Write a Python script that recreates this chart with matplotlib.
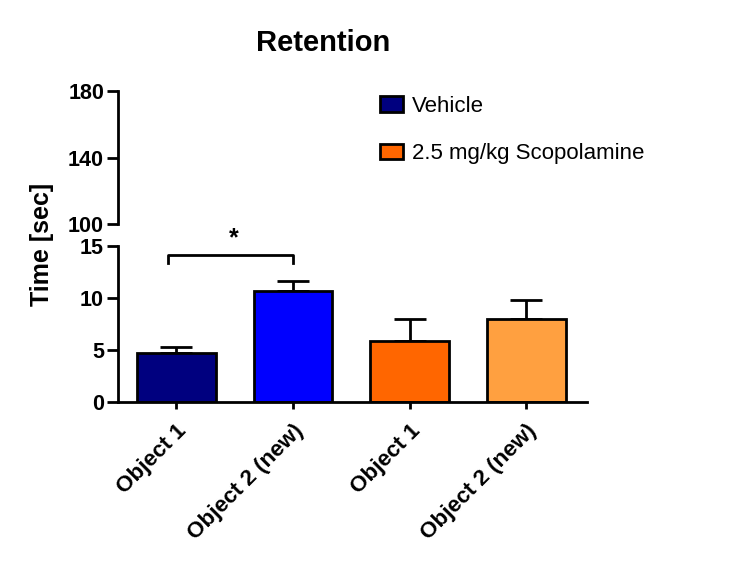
import numpy as np
import matplotlib.pyplot as plt
from matplotlib.patches import Patch

plt.rcParams['font.family'] = ['Liberation Sans', 'DejaVu Sans']

# data
labels = ["Object 1", "Object 2 (new)", "Object 1", "Object 2 (new)"]
means = [4.7, 10.65, 5.85, 8.0]
sems = [0.55, 0.95, 2.1, 1.8]
bar_colors = ["#00007F", "#0000FF", "#FF6600", "#FFA040"]
groups = ["Vehicle", "2.5 mg/kg Scopolamine"]
group_colors = ["#00007F", "#FF6600"]

fig = plt.figure(figsize=(7.49, 5.71), dpi=100)
ax = fig.add_axes([0.1575, 0.296, 0.626, 0.2732])
ax_top = fig.add_axes([0.1575, 0.6077, 0.626, 0.2329])

x = np.arange(len(means))
ax.bar(x, means, width=0.675, color=bar_colors, edgecolor='black', linewidth=2, zorder=2)
ax.errorbar(x, means, yerr=[np.zeros(len(sems)), sems], fmt='none', ecolor='black',
            elinewidth=2, capsize=11.5, capthick=2, zorder=1)

ax.set_xlim(-0.5, 3.52)
ax.set_ylim(0, 15)
ax.set_yticks([0, 5, 10, 15])
ax.set_xticks(x)
ax.set_xticklabels(labels, rotation=45, ha='right', rotation_mode='anchor',
                   fontsize=16.2, fontweight='bold')
for lab in ax.get_yticklabels():
    lab.set_fontweight('bold')
    lab.set_fontsize(15.5)
ax.tick_params(axis='y', length=8, width=2, pad=2)
ax.tick_params(axis='x', length=5, width=2, pad=8)
for s in ['top', 'right']:
    ax.spines[s].set_visible(False)
for s in ['left', 'bottom']:
    ax.spines[s].set_linewidth(2)
ax.patch.set_alpha(0)

# significance bracket
bx = [-0.07, -0.07, 1.0, 1.0]
by = [13.4, 14.15, 14.15, 13.4]
ax.plot(bx, by, color='black', lw=2, clip_on=False)
ax.text(0.49, 14.55, "*", ha='center', va='bottom', fontsize=18, fontweight='bold', clip_on=False)

# broken upper segment
ax_top.set_xlim(-0.5, 3.52)
ax_top.set_ylim(100, 180)
ax_top.set_yticks([100, 140, 180])
ax_top.set_xticks([])
for lab in ax_top.get_yticklabels():
    lab.set_fontweight('bold')
    lab.set_fontsize(15.5)
ax_top.tick_params(axis='y', length=8, width=2, pad=2)
for s in ['top', 'right', 'bottom']:
    ax_top.spines[s].set_visible(False)
ax_top.spines['left'].set_linewidth(2)
ax_top.patch.set_alpha(0)

handles = [Patch(facecolor=c, edgecolor='black', linewidth=2) for c in group_colors]
fig.legend(handles, groups, loc='center left', bbox_to_anchor=(380 / 749, 1 - 130 / 571),
           frameon=False, fontsize=16, borderpad=0, borderaxespad=0,
           handlelength=1.05, handleheight=0.72, handletextpad=0.4, labelspacing=1.2)

fig.text(323 / 749, 1 - 43 / 571, "Retention", ha='center', va='center', fontsize=21, fontweight='bold')
fig.text(42 / 749, 1 - 244 / 571, "Time [sec]", ha='center', va='center', rotation=90,
         fontsize=18, fontweight='bold')

fig.savefig("out.png", dpi=100)
